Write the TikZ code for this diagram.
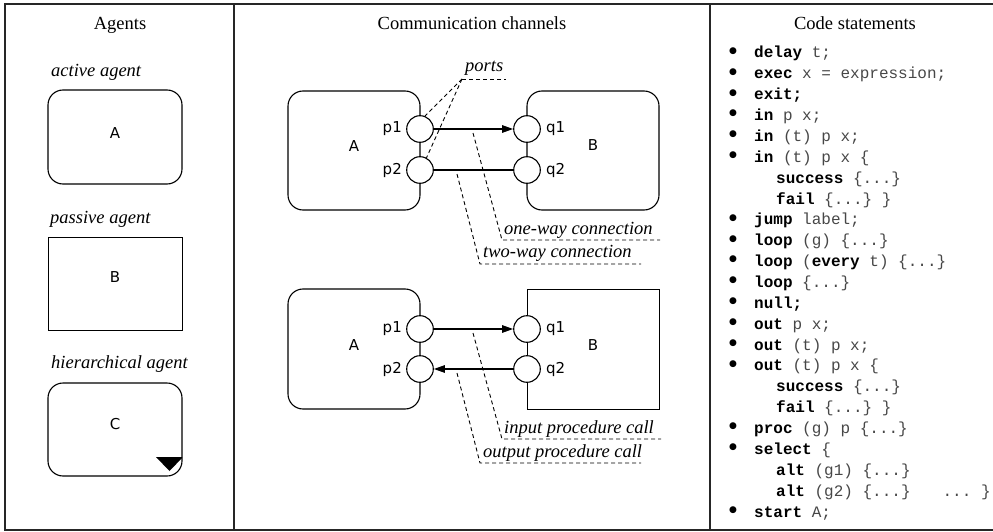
\documentclass[tikz,border=0pt]{standalone}
\usepackage{fontspec}
\setmainfont{Liberation Serif}
\setsansfont{DejaVu Sans}
\setmonofont{Liberation Mono}
\newfontfamily\symfont{DejaVu Sans}
\usetikzlibrary{arrows.meta}
\newcommand{\kwd}[1]{\textbf{\color{black}#1}}
\begin{document}
\begin{tikzpicture}[x=1pt,y=-1pt,
  frameline/.style={line width=1.4pt, draw=black!85},
  title/.style={font=\fontsize{18.5}{22}\selectfont, anchor=base},
  caption/.style={font=\fontsize{18.5}{22}\selectfont\itshape, anchor=base west, inner sep=0pt},
  agentname/.style={font=\sffamily\fontsize{15}{18}\selectfont, inner sep=0pt},
  activebox/.style={draw, line width=1.1pt, rounded corners=15pt, inner sep=0pt},
  passivebox/.style={draw, line width=0.95pt, inner sep=0pt},
  port/.style={draw, circle, fill=white, line width=1.1pt, minimum size=26.6pt, inner sep=0pt},
  portname/.style={font=\sffamily\fontsize{15}{18}\selectfont, inner sep=0pt},
  conn/.style={line width=1.1pt},
  tip/.style={-{Triangle[length=11pt,width=7.5pt]}},
  leader/.style={line width=0.9pt, dash pattern=on 4pt off 3pt},
  codeline/.style={font=\ttfamily\fontsize{16}{19}\selectfont\color{black!72}, anchor=base west, inner sep=0pt},
  bulletmark/.style={font=\symfont\fontsize{9}{10}\selectfont, anchor=center, inner sep=0pt}
]
\useasboundingbox (0,0) rectangle (993,532);

% frame and column dividers
\draw[frameline] (996,4) -- (5,4) -- (5,530) -- (996,530);
\draw[frameline] (234,4) -- (234,530);
\draw[frameline] (710,4) -- (710,530);

% titles
\node[title] (t1) at (120,30) {Agents};
\node[title] (t2) at (472,30) {Communication channels};
\node[title] (t3) at (855,30) {Code statements};

% ---------------- Agents column
\node[caption] (capA) at (51,77) {active agent};
\node[activebox, minimum width=134pt, minimum height=94pt] (agA) at (115,137) {};
\node[agentname] (agAt) at (115,133) {A};

\node[caption] (capB) at (50,223) {passive agent};
\node[passivebox, minimum width=134pt, minimum height=93pt] (agB) at (115,283.5) {};
\node[agentname] (agBt) at (115,277.5) {B};

\node[caption] (capC) at (51,368) {hierarchical agent};
\begin{scope}
  \clip[rounded corners=15pt] (48,383) rectangle (182,476);
  \fill (156,457) -- (183,457) -- (169.5,471) -- cycle;
\end{scope}
\node[activebox, minimum width=134pt, minimum height=93pt] (agC) at (115,429.5) {};
\node[agentname] (agCt) at (115,424) {C};

% ---------------- Communication channels: top
\node[activebox, minimum width=132pt, minimum height=119pt] (A1) at (354,150.5) {};
\node[agentname] (A1t) at (354,146) {A};
\node[activebox, minimum width=132pt, minimum height=119pt] (B1) at (593,150.5) {};
\node[agentname] (B1t) at (593,145.5) {B};
\node[port] (p1a) at (420,129) {};
\node[port] (p2a) at (420,170) {};
\node[port] (q1a) at (527,129) {};
\node[port] (q2a) at (527,170) {};
\node[portname, anchor=east] (p1at) at (402,129) {p1};
\node[portname, anchor=east] (p2at) at (402,170) {p2};
\node[portname, anchor=west] (q1at) at (546,129) {q1};
\node[portname, anchor=west] (q2at) at (546,170) {q2};
\draw[conn, tip] (p1a) -- (q1a);
\draw[conn] (p2a) -- (q2a);

% labels top
\node[caption] (portsl) at (465,72) {ports};
\coordinate (portsU) at (462,79);
\coordinate (portsE) at (506,79);
\draw[leader] (portsU) -- (portsE);
\draw[leader] (portsU) -- (p1a.69);
\draw[leader] (portsU) -- (p2a.62);

\node[caption] (oneway) at (504,234) {one-way connection};
\coordinate (owS) at (473,133);
\coordinate (owU) at (502,240);
\coordinate (owE) at (660,240);
\draw[leader] (owS) -- (owU) -- (owE);

\node[caption] (twoway) at (483,257) {two-way connection};
\coordinate (twS) at (457,174);
\coordinate (twU) at (480,264);
\coordinate (twE) at (641,264);
\draw[leader] (twS) -- (twU) -- (twE);

% ---------------- Communication channels: bottom
\node[activebox, minimum width=132pt, minimum height=120pt] (A2) at (354,349) {};
\node[agentname] (A2t) at (354,345.5) {A};
\node[passivebox, minimum width=132pt, minimum height=120pt] (B2) at (593,349) {};
\node[agentname] (B2t) at (593,345) {B};
\node[port] (p1b) at (420,329) {};
\node[port] (p2b) at (420,369) {};
\node[port] (q1b) at (527,329) {};
\node[port] (q2b) at (527,369) {};
\node[portname, anchor=east] (p1bt) at (402,329) {p1};
\node[portname, anchor=east] (p2bt) at (402,369) {p2};
\node[portname, anchor=west] (q1bt) at (546,329) {q1};
\node[portname, anchor=west] (q2bt) at (546,369) {q2};
\draw[conn, tip] (p1b) -- (q1b);
\draw[conn, tip] (q2b) -- (p2b);

\node[caption] (inpc) at (504,433) {input procedure call};
\coordinate (ipS) at (473,333);
\coordinate (ipU) at (502,439);
\coordinate (ipE) at (661,439);
\draw[leader] (ipS) -- (ipU) -- (ipE);

\node[caption] (outpc) at (483,457) {output procedure call};
\coordinate (opS) at (457,373);
\coordinate (opU) at (480,463);
\coordinate (opE) at (641,463);
\draw[leader] (opS) -- (opU) -- (opE);

% ---------------- Code statements
\node[bulletmark] (b1) at (733,51) {●};
\node[codeline] (c1) at (754,58) {\kwd{delay} t;};
\node[bulletmark] (b2) at (733,71.86) {●};
\node[codeline] (c2) at (754,78.86) {\kwd{exec} x = expression;};
\node[bulletmark] (b3) at (733,92.73) {●};
\node[codeline] (c3) at (754,99.73) {\kwd{exit;}};
\node[bulletmark] (b4) at (733,113.59) {●};
\node[codeline] (c4) at (754,120.59) {\kwd{in} p x;};
\node[bulletmark] (b5) at (733,134.46) {●};
\node[codeline] (c5) at (754,141.46) {\kwd{in} (t) p x;};
\node[bulletmark] (b6) at (733,155.32) {●};
\node[codeline] (c6) at (754,162.32) {\kwd{in} (t) p x \{};
\node[codeline] (c7) at (776,183.18) {\kwd{success} \{...\}};
\node[codeline] (c8) at (776,204.05) {\kwd{fail} \{...\} \}};
\node[bulletmark] (b9) at (733,217.91) {●};
\node[codeline] (c9) at (754,224.91) {\kwd{jump} label;};
\node[bulletmark] (b10) at (733,238.78) {●};
\node[codeline] (c10) at (754,245.78) {\kwd{loop} (g) \{...\}};
\node[bulletmark] (b11) at (733,259.64) {●};
\node[codeline] (c11) at (754,266.64) {\kwd{loop} (\kwd{every} t) \{...\}};
\node[bulletmark] (b12) at (733,280.50) {●};
\node[codeline] (c12) at (754,287.50) {\kwd{loop} \{...\}};
\node[bulletmark] (b13) at (733,301.37) {●};
\node[codeline] (c13) at (754,308.37) {\kwd{null;}};
\node[bulletmark] (b14) at (733,322.23) {●};
\node[codeline] (c14) at (754,329.23) {\kwd{out} p x;};
\node[bulletmark] (b15) at (733,343.10) {●};
\node[codeline] (c15) at (754,350.10) {\kwd{out} (t) p x;};
\node[bulletmark] (b16) at (733,363.96) {●};
\node[codeline] (c16) at (754,370.96) {\kwd{out} (t) p x \{};
\node[codeline] (c17) at (776,391.82) {\kwd{success} \{...\}};
\node[codeline] (c18) at (776,412.69) {\kwd{fail} \{...\} \}};
\node[bulletmark] (b19) at (733,426.55) {●};
\node[codeline] (c19) at (754,433.55) {\kwd{proc} (g) p \{...\}};
\node[bulletmark] (b20) at (733,447.42) {●};
\node[codeline] (c20) at (754,454.42) {\kwd{select} \{};
\node[codeline] (c21) at (776,475.28) {\kwd{alt} (g1) \{...\}};
\node[codeline] (c22) at (776,496.14) {\kwd{alt} (g2) \{...\}\hspace{32pt}... \}};
\node[bulletmark] (b23) at (733,510.01) {●};
\node[codeline] (c23) at (754,517.01) {\kwd{start} A;};
\end{tikzpicture}
\end{document}
